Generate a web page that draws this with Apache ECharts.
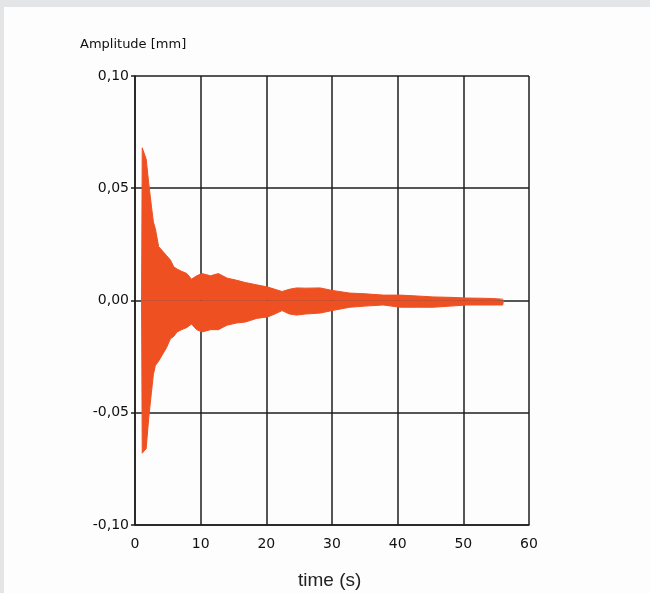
<!DOCTYPE html>
<html>
<head>
<meta charset="utf-8">
<script src="https://cdn.jsdelivr.net/npm/echarts@6/dist/echarts.min.js"></script>
<style>
  html, body { margin: 0; padding: 0; background: #fdfdfd; }
  #chart { width: 650px; height: 593px; }
</style>
</head>
<body>
<div id="chart"></div>
<script>
// envelope of the decay signal
const timeSec = [1.0, 1.1, 1.7, 2.1, 2.5, 2.8, 3.1, 3.6, 4.2, 4.8, 5.4, 5.9, 6.4, 7.1, 7.9, 8.6, 9.4, 10.2,
  11.5, 12.7, 14, 15.5, 16.8, 18.5, 20.2, 21.3, 22.4, 23.5, 24.6, 26, 28.2, 30, 32.7, 35, 37.8,
  40.4, 43, 45.4, 48, 50.5, 53, 55, 56, 56.1];
const upperAmp = [0, 0.068, 0.063, 0.052, 0.042, 0.035, 0.032, 0.024, 0.022, 0.020, 0.018, 0.015, 0.014, 0.013, 0.012, 0.0095, 0.011, 0.012,
  0.011, 0.012, 0.010, 0.009, 0.008, 0.007, 0.006, 0.005, 0.004, 0.005, 0.0056, 0.0055, 0.0056, 0.0045, 0.0033, 0.003, 0.0024,
  0.0024, 0.002, 0.0016, 0.0014, 0.0011, 0.001, 0.0008, 0.0006, 0];
const lowerAmp = [0, -0.068, -0.066, -0.052, -0.041, -0.033, -0.029, -0.027, -0.024, -0.021, -0.017, -0.016, -0.014, -0.013, -0.012, -0.0105, -0.013, -0.014,
  -0.013, -0.013, -0.011, -0.010, -0.0096, -0.008, -0.0073, -0.006, -0.0045, -0.006, -0.0065, -0.006, -0.0056, -0.0045, -0.003, -0.0025, -0.002,
  -0.003, -0.003, -0.003, -0.0025, -0.002, -0.002, -0.002, -0.002, 0];

const fillColor = '#ef5022';
const lineColor = '#1e1e1e';

const chart = echarts.init(document.getElementById('chart'));

const toPairs = (vals) => timeSec.map((t, i) => [t, vals[i]]);
const fmt = (v) => v.toFixed(2).replace('.', ',');

chart.setOption({
  backgroundColor: '#fdfdfd',
  animation: false,
  grid: { left: 135, top: 76, width: 394, height: 449 },
  graphic: [
    { type: 'rect', shape: { x: 0, y: 0, width: 650, height: 7 }, style: { fill: '#e4e5e7' }, z: -1 },
    { type: 'rect', shape: { x: 0, y: 0, width: 4, height: 593 }, style: { fill: '#e4e5e7' }, z: -1 },
    {
      type: 'text', left: 80, top: 38,
      style: { text: 'Amplitude [mm]', font: '13px "DejaVu Sans"', fill: '#111' }
    },
    {
      type: 'text', left: 298, top: 571,
      style: { text: 'time (s)', font: '19px "Liberation Sans"', fill: '#222' }
    }
  ],
  xAxis: {
    type: 'value', min: 0, max: 60, interval: 10,
    axisLine: { show: true, onZero: false, lineStyle: { color: lineColor, width: 1.5 } },
    axisTick: { show: false },
    axisLabel: { margin: 12, color: '#111', fontFamily: 'DejaVu Sans', fontSize: 14 },
    splitLine: { show: true, lineStyle: { color: lineColor, width: 1.5 } }
  },
  yAxis: {
    type: 'value', min: -0.1, max: 0.1, interval: 0.05,
    axisLine: { show: true, onZero: false, lineStyle: { color: lineColor, width: 1.5 } },
    axisTick: { show: true, length: 4, lineStyle: { color: lineColor, width: 1.5 } },
    axisLabel: { margin: 6, color: '#111', fontFamily: 'DejaVu Sans', fontSize: 14, formatter: fmt },
    splitLine: { show: true, lineStyle: { color: lineColor, width: 1.5 } }
  },
  series: [
    {
      type: 'line', data: toPairs(upperAmp), symbol: 'none',
      lineStyle: { color: fillColor, width: 1 },
      areaStyle: { color: fillColor, opacity: 1 }, z: 3
    },
    {
      type: 'line', data: toPairs(lowerAmp), symbol: 'none',
      lineStyle: { color: fillColor, width: 1 },
      areaStyle: { color: fillColor, opacity: 1 }, z: 3
    }
  ]
});
</script>
</body>
</html>
